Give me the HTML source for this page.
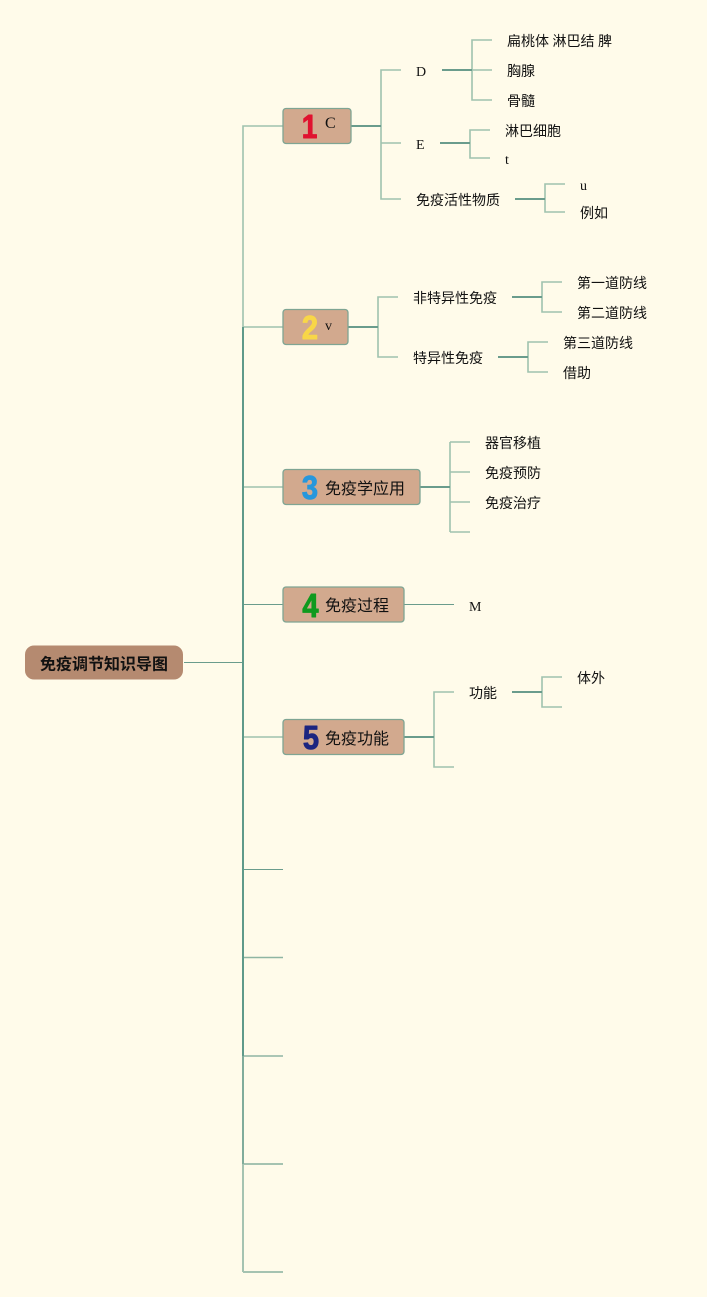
<!DOCTYPE html>
<html><head><meta charset="utf-8"><style>
html,body{margin:0;padding:0;background:#fffbea;width:707px;height:1297px;overflow:hidden}
svg{display:block}
text{font-family:"Liberation Sans","Noto Sans CJK SC",sans-serif;font-size:14px;fill:#111}
text{font-family:"Liberation Serif","Noto Sans CJK SC",serif}
.l{stroke:#9fc2ae;stroke-width:1.6;fill:none}
.d{stroke:#6a9c8c;stroke-width:2;fill:none}
.t{stroke:#6a9c8c;stroke-width:1.1;fill:none}
.b{fill:#d2a98e;stroke:#7fa593;stroke-width:1.3}
text.n{font-family:"Liberation Sans",sans-serif;font-weight:bold;font-size:33px;stroke-width:1;stroke-linejoin:round;stroke-linecap:round;text-anchor:middle}
.m{font-size:16px}
</style></head><body>
<svg width="707" height="1297" viewBox="0 0 707 1297" xmlns="http://www.w3.org/2000/svg">
<rect width="707" height="1297" fill="#fffbea"/>
<!-- spine -->
<path class="l" d="M283 126H243V327M243 327H283M243 487H283M243 737H283"/>
<path d="M243 1164H283M243 1272H283M243 1164V1272" stroke="#a5c3b1" stroke-width="2" fill="none"/>
<path d="M243 957.500H283M243 1056H283" stroke="#8fb5a3" stroke-width="1.6" fill="none"/>
<path class="t" d="M243 604.500H283M243 869.500H283M184 662.500H243"/>
<path d="M243 327V1056" stroke="#5f9a8a" stroke-width="2" fill="none"/>
<path d="M243 1056V1164" stroke="#80ac9b" stroke-width="2" fill="none"/>
<!-- branch 1 -->
<path class="l" d="M381 126V70H401M381 126V199H401M381 143H401"/>
<path class="d" d="M351 126H381"/>
<path class="l" d="M472 70V40H492M472 70V100H492M472 70H492"/>
<path class="d" d="M442 70H472"/>
<path class="l" d="M470 143V130H490M470 143V158H490"/>
<path class="d" d="M440 143H470"/>
<path class="l" d="M545 199V184H565M545 199V212H565"/>
<path class="d" d="M515 199H545"/>
<!-- branch 2 -->
<path class="l" d="M378 327V297H398M378 327V357H398"/>
<path class="d" d="M348 327H378"/>
<path class="l" d="M542 297V282H562M542 297V312H562"/>
<path class="d" d="M512 297H542"/>
<path class="l" d="M528 357V342H548M528 357V372H548"/>
<path class="d" d="M498 357H528"/>
<!-- branch 3 -->
<path class="l" d="M450 442V532M450 442H470M450 472H470M450 502H470M450 532H470"/>
<path class="d" d="M420 487H450"/>
<!-- branch 4 -->
<path class="t" d="M404 604.500H454"/>
<!-- branch 5 -->
<path class="l" d="M434 737V692H454M434 737V767H454"/>
<path class="d" d="M404 737H434"/>
<path class="l" d="M542 692V677H562M542 692V707H562"/>
<path class="d" d="M512 692H542"/>
<!-- root -->
<rect x="25" y="645.500" width="158" height="34" rx="9" fill="#b58a70"/>
<text x="40" y="669.500" style="font-size:16px;font-weight:bold">免疫调节知识导图</text>
<!-- main nodes -->
<rect class="b" x="283" y="108.500" width="68" height="35" rx="3"/>
<text class="n" transform="translate(309.500 138) scale(.85 1)" style="fill:#e0122f;stroke:#e0122f">1</text>
<text class="m" x="325" y="128">C</text>
<rect class="b" x="283" y="309.500" width="65" height="35" rx="3"/>
<text class="n" transform="translate(310 339) scale(.88 1)" style="fill:#f8d648;stroke:#f8d648">2</text>
<text x="325" y="330">v</text>
<rect class="b" x="283" y="469.500" width="137" height="35" rx="3"/>
<text class="n" transform="translate(310 499) scale(.88 1)" style="fill:#2797dc;stroke:#2797dc">3</text>
<text class="m" x="325" y="494">免疫学应用</text>
<rect class="b" x="283" y="587" width="121" height="35" rx="3"/>
<text class="n" transform="translate(310.500 617) scale(.88 1)" style="fill:#0f9a1e;stroke:#0f9a1e">4</text>
<text class="m" x="325" y="611">免疫过程</text>
<rect class="b" x="283" y="719.500" width="121" height="35" rx="3"/>
<text class="n" transform="translate(311 749) scale(.88 1)" style="fill:#1c2580;stroke:#1c2580">5</text>
<text class="m" x="325" y="744">免疫功能</text>
<!-- labels -->
<text x="416" y="76">D</text>
<text x="507" y="46">扁桃体 淋巴结 脾</text>
<text x="507" y="76">胸腺</text>
<text x="507" y="106">骨髓</text>
<text x="416" y="149">E</text>
<text x="505" y="136">淋巴细胞</text>
<text x="505" y="164">t</text>
<text x="416" y="205">免疫活性物质</text>
<text x="580" y="190">u</text>
<text x="580" y="218">例如</text>
<text x="413" y="303">非特异性免疫</text>
<text x="577" y="288">第一道防线</text>
<text x="577" y="318">第二道防线</text>
<text x="413" y="363">特异性免疫</text>
<text x="563" y="348">第三道防线</text>
<text x="563" y="378">借助</text>
<text x="485" y="448">器官移植</text>
<text x="485" y="478">免疫预防</text>
<text x="485" y="508">免疫治疗</text>
<text x="469" y="611">M</text>
<text x="469" y="698">功能</text>
<text x="577" y="683">体外</text>
</svg>
</body></html>
